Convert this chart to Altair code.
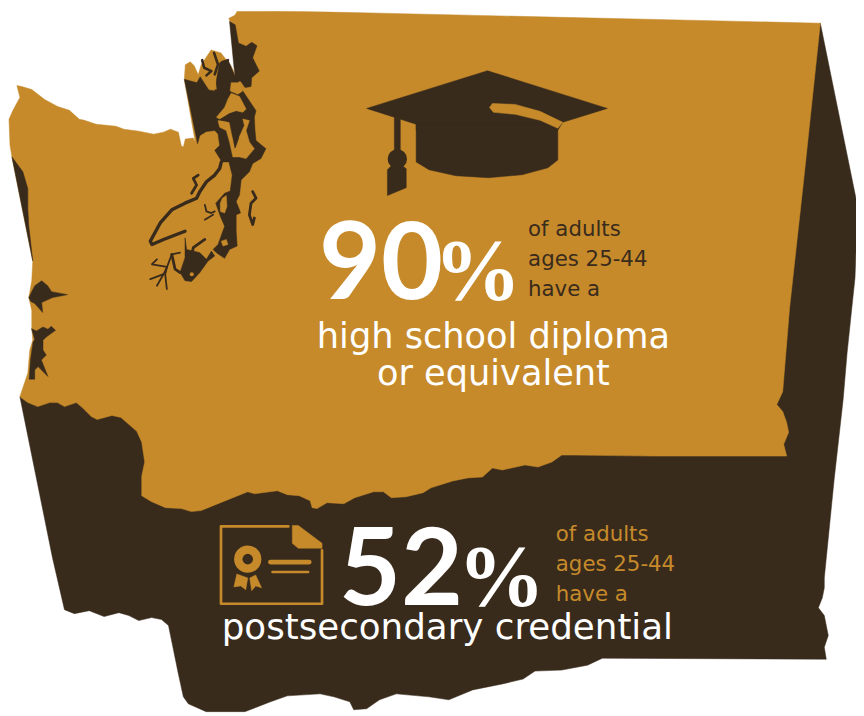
import altair as alt

ORANGE = "#C68A2B"
DARK = "#392B1C"
WHITE = "#FFFFFF"
OFF = 8


def third(pts):
    return [(x / 3, y / 3) for x, y in pts]


def shift(pts, dx, dy):
    return [(x + dx, y + dy) for x, y in pts]


# ---- state outlines (picture pixels)
backdrop = [
    (20, 397), (53, 560), (65, 612), (75, 616), (90, 613), (105, 619), (120, 615), (130, 618),
    (140, 623), (153, 620), (163, 622), (170, 628), (180, 677), (185, 700), (190, 707), (208, 715),
    (247, 715), (273, 705), (290, 699), (323, 697), (337, 700), (353, 705), (357, 713), (370, 712),
    (383, 703), (400, 697), (433, 700), (453, 703), (477, 693), (507, 687), (528, 682), (540, 674),
    (567, 673), (593, 668), (608, 661), (834, 662), (832, 650), (836, 638), (834, 628), (832, 618),
    (826, 610), (830, 600), (832, 590), (832, 580), (842, 480), (851, 400), (855, 353), (863, 277),
    (864, 250), (864, 197), (828, 20), (600, 200), (300, 300),
]
silhouette = [
    (240, 7), (300, 8), (828, 20), (811, 180), (797, 307), (791, 380), (790, 392), (784, 405),
    (790, 412), (794, 423), (796, 433), (791, 445), (794, 457), (660, 457), (580, 456), (567, 456),
    (557, 463), (543, 468), (530, 466), (507, 471), (497, 469), (487, 478), (472, 479), (457, 482),
    (435, 489), (427, 494), (410, 498), (395, 499), (387, 493), (377, 493), (358, 499), (347, 505),
    (330, 504), (320, 510), (315, 509), (313, 502), (302, 497), (290, 496), (280, 492), (257, 495),
    (250, 493), (240, 497), (220, 505), (203, 512), (193, 513), (183, 510), (167, 509), (153, 503),
    (143, 497), (143, 477), (146, 463), (143, 443), (138, 432), (122, 418), (113, 416), (98, 420),
    (92, 417), (83, 408), (77, 403), (65, 407), (58, 403), (50, 403), (38, 407), (28, 403),
    (20, 397), (28, 373), (30, 350), (33, 340), (32, 327), (32, 310), (29, 297), (32, 280),
    (33, 260), (12, 155), (10, 143), (9, 117), (13, 108), (20, 95), (17, 83), (22, 84), (32, 87),
    (45, 97), (58, 104), (70, 108), (80, 117), (85, 118), (97, 122), (117, 124), (125, 127),
    (140, 129), (155, 132), (165, 130), (172, 127), (180, 130), (183, 144), (185, 145), (187, 137),
    (195, 136), (197, 140), (186, 77), (187, 62), (192, 59), (196, 63), (200, 72), (203, 62),
    (213, 47), (223, 50), (233, 63), (238, 73), (232, 18), (231, 15), (237, 12),
]

# ---- water, traced at 3x
north_strip = third([
    (695, 55), (712, 65), (722, 120), (745, 130), (762, 118), (778, 128), (765, 165), (785, 205),
    (762, 225), (760, 252), (742, 255), (728, 235), (705, 240), (712, 222), (708, 190),
])
sound_main = third([
    (558, 230), (596, 240), (606, 222), (632, 262), (650, 265), (658, 215), (665, 180), (690, 170),
    (712, 222), (735, 265), (775, 325), (770, 345), (772, 385), (775, 415), (805, 440), (790, 470),
    (765, 485), (755, 510), (730, 535), (725, 580), (715, 600), (725, 625), (728, 635), (715, 640),
    (715, 690), (718, 735), (695, 745), (680, 772), (655, 755), (645, 745), (660, 730), (680, 675),
    (667, 645), (653, 605), (680, 575), (697, 568), (703, 520), (693, 480), (672, 480), (650, 445),
    (665, 430), (660, 395), (650, 385), (625, 388), (605, 400), (598, 425),
])
finger = third([
    (668, 352), (695, 335), (728, 338), (730, 350), (712, 368), (722, 410), (712, 438), (702, 395), (695, 360),
])
south_basin = third(shift([
    (150, 270), (170, 275), (190, 295), (205, 270), (215, 285), (195, 300), (170, 335), (145, 362),
    (125, 360), (110, 335), (125, 290), (125, 230), (130, 265),
], 435, 480))
grays_harbor = [
    (29, 297), (35, 285), (42, 280), (48, 285), (52, 291), (68, 294), (53, 297), (42, 302),
    (43, 312), (35, 303), (31, 301),
]
willapa = third(shift([
    (95, 205), (110, 212), (130, 200), (145, 207), (155, 198), (168, 210), (140, 230), (130, 240),
    (130, 270), (140, 285), (125, 300), (145, 350), (115, 320), (105, 330), (105, 358), (88, 358),
    (92, 300), (100, 245), (105, 238),
], 0, 780))
coast_strip = [(12, 155), (23, 170), (28, 187), (28, 207), (29, 225), (33, 260)]

# ---- land lying in the water, traced at 3x
whidbey = third([
    (700, 272), (725, 282), (745, 320), (735, 330), (715, 325), (695, 332), (665, 350), (655, 345),
    (680, 315), (690, 290),
])
fidalgo = third([(700, 240), (728, 240), (735, 265), (720, 275), (697, 265)])
mainland_strip = third([
    (660, 355), (700, 360), (710, 440), (722, 410), (740, 370), (735, 350), (755, 355), (745, 385),
    (755, 420), (770, 440), (745, 470), (725, 465), (705, 465), (695, 420), (685, 385), (665, 375),
])
kitsap_island = third(shift([
    (238, 110), (250, 102), (252, 135), (245, 155), (232, 150), (232, 125),
], 435, 480))
san_juan_islands = third([(628, 215), (650, 212), (655, 260), (635, 258)])
small_island = third(shift([(235, 240), (250, 235), (255, 250), (240, 255)], 435, 480))

# ---- San Juan channels, traced at 3x
channel_a = [(612, 172), (618, 195), (640, 205), (625, 218)]
channel_b = [(648, 150), (660, 185), (650, 215)]
channel_c = [(672, 178), (690, 172)]

# ---- thin inlets, traced at 3x from the south Sound crop
hood_canal = [(235, 0), (230, 20), (215, 40), (190, 60), (170, 90), (160, 110), (125, 125),
              (85, 145), (50, 185), (20, 240), (25, 250), (60, 235), (125, 210)]
dabob = [(165, 40), (150, 50), (160, 70), (145, 95)]
kitsap_branch = [(185, 130), (190, 150), (205, 155), (215, 150)]
kitsap_branch2 = [(185, 175), (210, 160)]
inlet_a = [(110, 275), (85, 280), (70, 320), (60, 340), (20, 355)]
inlet_b = [(40, 295), (25, 310), (70, 318)]
inlet_c = [(70, 320), (65, 340), (70, 385)]
inlet_d = [(60, 340), (40, 375)]
inlet_e = [(85, 280), (95, 325), (110, 335)]
inlet_f = [(185, 235), (150, 260), (145, 285)]
lake = [(330, 90), (340, 110), (325, 125), (320, 160), (330, 190), (335, 170)]

# ---- graduation cap
cap_board = [(370, 106), (492, 68), (613, 106), (568, 120), (563, 128), (420, 128), (420, 122)]
cap_body = [(420, 122), (563, 122), (563, 158), (553, 166), (527, 173), (493, 176), (460, 174),
            (433, 168), (420, 160)]
cap_band = [(497, 101), (520, 102), (545, 109), (568, 120), (563, 126), (545, 118), (520, 112),
            (498, 110), (494, 105)]
tassel_cord = [(398, 115), (404, 117), (404, 150), (398, 150)]
tassel_end = [(391, 168), (396, 163), (405, 163), (410, 167), (410, 186), (391, 194)]

# ---- certificate
cert_frame = [(291, 528), (223, 528), (223, 606), (325, 606), (325, 552)]
cert_corner = [(295, 527), (301, 527), (325, 545), (325, 550), (301, 550), (295, 545)]
ribbon_left = [(239, 576), (236, 589), (243, 588), (248, 592), (250, 580)]
ribbon_right = [(252, 580), (254, 593), (258, 588), (264, 590), (258, 577)]
cert_bar = [(273, 564), (312, 564)]
cert_bar2 = [(275, 574), (311, 574)]


def polygon(pts):
    ring = [list(p) for p in pts] + [list(pts[0])]
    return {"type": "Feature", "properties": {}, "geometry": {"type": "Polygon", "coordinates": [ring]}}


def fill(color, *shapes):
    return alt.Chart(alt.Data(values=[polygon(s) for s in shapes])).mark_geoshape(
        fill=color, stroke=color, strokeWidth=0.5
    )


def stroke(color, width, *paths):
    feats = [{"type": "Feature", "properties": {},
              "geometry": {"type": "LineString", "coordinates": [list(p) for p in path]}} for path in paths]
    return alt.Chart(alt.Data(values=feats)).mark_geoshape(
        filled=False, stroke=color, strokeWidth=width, strokeCap="round", strokeJoin="round"
    )


def inlets(*paths):
    return [third(shift(p, 435, 480)) for p in paths]


def dot(x, y, r, color):
    return alt.Chart(alt.Data(values=[{"a": 0}])).mark_circle(
        size=3.1416 * r * r, color=color, opacity=1
    ).encode(x=alt.value(x - OFF), y=alt.value(y - OFF))


def text(s, x, y, size, color, align="left", font="DejaVu Sans", weight="normal"):
    return alt.Chart(alt.Data(values=[{"t": s}])).mark_text(
        text=s, font=font, fontSize=size, color=color, align=align, baseline="alphabetic",
        fontWeight=weight
    ).encode(x=alt.value(x - OFF), y=alt.value(y - OFF))


NARROW = "Liberation Sans Narrow"

layers = [
    fill(DARK, backdrop),
    fill(ORANGE, silhouette),
    fill(DARK, sound_main, north_strip, south_basin, grays_harbor, willapa, coast_strip),
    fill(ORANGE, whidbey, fidalgo, mainland_strip, kitsap_island, san_juan_islands, small_island),
    fill(DARK, finger),
    dot(193.5, 273.5, 2.3, ORANGE),
    stroke(DARK, 2.6, *[third(c) for c in (channel_a, channel_b, channel_c)]),
    stroke(DARK, 3.4, *inlets(hood_canal)),
    stroke(DARK, 2.8, *inlets(dabob, inlet_f, inlet_e, lake)),
    stroke(DARK, 1.8, *inlets(kitsap_branch, kitsap_branch2, inlet_a, inlet_b, inlet_c, inlet_d)),
    # cap
    fill(DARK, cap_board, cap_body, tassel_cord, tassel_end),
    fill(ORANGE, cap_band),
    dot(401, 157, 11, DARK),
    # certificate
    stroke(ORANGE, 2.7, cert_frame),
    fill(ORANGE, cert_corner, ribbon_left, ribbon_right),
    stroke(ORANGE, 5, cert_bar),
    stroke(ORANGE, 2.6, cert_bar2),
    dot(250, 561, 15.5, ORANGE),
    dot(250, 561, 6, DARK),
    # text
    text("90", 322, 298, 108, WHITE, font="Lato", weight="bold"),
    text("%", 526, 298, 88, WHITE, align="right", font=NARROW, weight="bold"),
    text("of adults", 533, 235, 21.5, DARK),
    text("ages 25-44", 533, 265, 21.5, DARK),
    text("have a", 533, 295, 21.5, DARK),
    text("high school diploma", 498, 348, 35.5, WHITE, align="center"),
    text("or equivalent", 498, 385, 35.5, WHITE, align="center"),
    text("52", 342, 607, 108, WHITE, font="Lato", weight="bold"),
    text("%", 550, 607, 88, WHITE, align="right", font=NARROW, weight="bold"),
    text("of adults", 561, 543, 21.5, ORANGE),
    text("ages 25-44", 561, 573, 21.5, ORANGE),
    text("have a", 561, 603, 21.5, ORANGE),
    text("postsecondary credential", 451.5, 642, 36, WHITE, align="center"),
]

chart = alt.layer(*layers).project(type="identity", scale=1, translate=[-OFF, -OFF]).properties(
    width=856, height=708, padding=0, background="white"
).configure_view(stroke=None)

chart.save("out.html", embed_options={"renderer": "svg", "actions": False})
